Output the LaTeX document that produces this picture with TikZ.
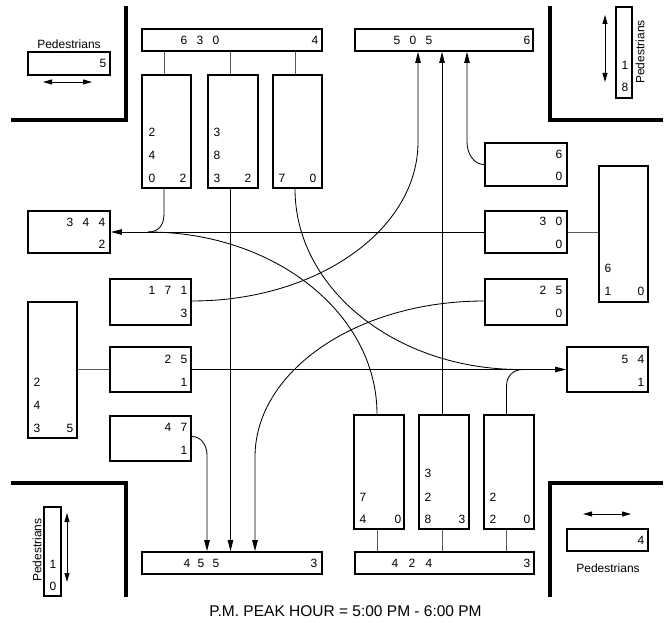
\documentclass[tikz,border=0pt]{standalone}
\usepackage{fontspec}
\setmainfont{Liberation Sans}
\usetikzlibrary{arrows.meta,calc}
\newcommand\bx[5]{%
  \pgfmathsetmacro\bxcx{(#2+#4)/2}\pgfmathsetmacro\bxcy{(#3+#5)/2}%
  \pgfmathsetmacro\bxw{#4-#2}\pgfmathsetmacro\bxh{#5-#3}%
  \node[bx, minimum width=\bxw pt, minimum height=\bxh pt] (#1) at (\bxcx,\bxcy) {};}
\newcommand\dg[4]{\node[dig] (#1) at (#2,#3) {#4};}
\begin{document}
\begin{tikzpicture}[x=1pt,y=-1pt,
  bx/.style={draw, line width=1.8pt, inner sep=0pt},
  dig/.style={font=\fontsize{12}{12}\selectfont, inner sep=0pt},
  ptext/.style={font=\fontsize{12}{12}\selectfont, inner sep=0pt},
  conn/.style={line width=0.8pt, draw=black!65},
  flow/.style={line width=0.85pt},
  arr/.style={-{Triangle[length=11pt,width=5.5pt]}},
  ped/.style={{Triangle[length=9pt,width=5pt]}-{Triangle[length=9pt,width=5pt]}, line width=0.9pt},
  wall/.style={line width=4pt}]
\useasboundingbox (0,0) rectangle (666,623);

% walls
\draw[wall] (126,6) -- (126,120) -- (11,120);
\draw[wall] (550,6) -- (550,120) -- (663,120);
\draw[wall] (11,483) -- (126,483) -- (126,597);
\draw[wall] (663,483) -- (550,483) -- (550,597);

% boxes
\bx{T}{142}{29}{322}{51}
\bx{b1}{142}{75}{191}{188}
\bx{b2}{208}{75}{258}{188}
\bx{b3}{273}{75}{322}{188}
\bx{TR}{355}{29}{533}{51}
\bx{L344}{28}{211}{110}{253}
\bx{L171}{110}{279}{191}{325}
\bx{L25}{110}{347}{191}{392}
\bx{L47}{110}{416}{191}{461}
\bx{Ltall}{28}{302}{77}{438}
\bx{R60}{485}{143}{567}{186}
\bx{R30}{485}{211}{567}{253}
\bx{R25}{485}{279}{567}{325}
\bx{R54}{567}{347}{648}{392}
\bx{Rtall}{599}{166}{648}{302}
\bx{B1}{354}{415}{404}{529}
\bx{B2}{419}{415}{469}{529}
\bx{B3}{484}{415}{534}{529}
\bx{BL}{142}{552}{322}{574}
\bx{BR}{355}{552}{534}{574}
\bx{pTLbox}{28}{52}{110}{75}
\bx{pTRbox}{616}{7}{632}{98}
\bx{pBLbox}{44}{507}{61}{596}
\bx{pBRbox}{567}{529}{648}{551}

% digits
\dg{t1}{184}{40}{6}\dg{t2}{200}{40}{3}\dg{t3}{216}{40}{0}\dg{t4}{315}{40}{4}
\dg{a1}{152}{132}{2}\dg{a2}{152}{155}{4}\dg{a3}{152}{178}{0}\dg{a4}{183}{178}{2}
\dg{a5}{217}{132}{3}\dg{a6}{217}{155}{8}\dg{a7}{217}{178}{3}\dg{a8}{248}{178}{2}
\dg{a9}{282}{178}{7}\dg{a10}{313}{178}{0}
\dg{r1}{397}{40}{5}\dg{r2}{413}{40}{0}\dg{r3}{429}{40}{5}\dg{r4}{527}{40}{6}
\dg{l1}{70}{222}{3}\dg{l2}{86}{222}{4}\dg{l3}{102}{222}{4}\dg{l4}{102}{244}{2}
\dg{l5}{152}{290}{1}\dg{l6}{168}{290}{7}\dg{l7}{184}{290}{1}\dg{l8}{184}{313}{3}
\dg{l9}{168}{359}{2}\dg{l10}{184}{359}{5}\dg{l11}{184}{382}{1}
\dg{l12}{168}{427}{4}\dg{l13}{184}{427}{7}\dg{l14}{184}{450}{1}
\dg{l15}{37}{382}{2}\dg{l16}{37}{405}{4}\dg{l17}{37}{428}{3}\dg{l18}{70}{428}{5}
\dg{e1}{559}{154}{6}\dg{e2}{559}{176}{0}
\dg{e3}{543}{221}{3}\dg{e4}{559}{221}{0}\dg{e5}{559}{244}{0}
\dg{e6}{543}{290}{2}\dg{e7}{559}{290}{5}\dg{e8}{559}{313}{0}
\dg{e9}{625}{359}{5}\dg{e10}{641}{359}{4}\dg{e11}{641}{382}{1}
\dg{e12}{608}{268}{6}\dg{e13}{608}{291}{1}\dg{e14}{641}{291}{0}
\dg{s1}{363}{497}{7}\dg{s2}{363}{519}{4}\dg{s3}{398}{519}{0}
\dg{s4}{428}{473}{3}\dg{s5}{428}{497}{2}\dg{s6}{428}{519}{8}\dg{s7}{462}{519}{3}
\dg{s8}{493}{497}{2}\dg{s9}{493}{519}{2}\dg{s10}{527}{519}{0}
\dg{s11}{187}{563}{4}\dg{s12}{201}{563}{5}\dg{s13}{216}{563}{5}\dg{s14}{314}{563}{3}
\dg{s15}{395}{563}{4}\dg{s16}{412}{563}{2}\dg{s17}{429}{563}{4}\dg{s18}{527}{563}{3}
\dg{p1}{103}{63}{5}
\dg{p2}{625}{65}{1}\dg{p3}{625}{87}{8}
\dg{p4}{53}{564}{1}\dg{p5}{53}{586}{0}
\dg{p6}{641}{540}{4}

% pedestrian labels and arrows
\node[ptext] (pTL) at (69,44) {Pedestrians};
\node[ptext, rotate=90] (pTR) at (640,52) {Pedestrians};
\node[ptext, rotate=90] (pBL) at (37,550) {Pedestrians};
\node[ptext] (pBR) at (608,568) {Pedestrians};
\coordinate (qa1) at (43,82); \coordinate (qa2) at (92,82);
\coordinate (qb1) at (605,15); \coordinate (qb2) at (605,82);
\coordinate (qc1) at (67,513); \coordinate (qc2) at (67,582);
\coordinate (qd1) at (583,514); \coordinate (qd2) at (631,514);
\draw[ped] (qa1) -- (qa2);
\draw[ped] (qb1) -- (qb2);
\draw[ped] (qc1) -- (qc2);
\draw[ped] (qd1) -- (qd2);

% lane connectors
\draw[conn] ([xshift=-2.5pt]b1.north) -- ([xshift=-2.5pt]b1.north |- T.south);
\draw[conn] ([xshift=-2.5pt]b2.north) -- ([xshift=-2.5pt]b2.north |- T.south);
\draw[conn] ([xshift=-2.5pt]b3.north) -- ([xshift=-2.5pt]b3.north |- T.south);
\draw[conn] ([xshift=-2pt]B1.south) -- ([xshift=-2pt]B1.south |- BR.north);
\draw[conn] ([xshift=-2pt]B2.south) -- ([xshift=-2pt]B2.south |- BR.north);
\draw[conn] ([xshift=-2.5pt]B3.south) -- ([xshift=-2.5pt]B3.south |- BR.north);
\draw[conn] ($(L171.west)+(0,11)$) -- ($(L171.west)+(0,11)$ -| Ltall.east);
\draw[conn] (L25.west) -- (L25.west -| Ltall.east);
\draw[conn] ($(L47.west)+(0,-11.5)$) -- ($(L47.west)+(0,-11.5)$ -| Ltall.east);
\draw[conn] ($(R60.east)+(0,11)$) -- ($(R60.east)+(0,11)$ -| Rtall.west);
\draw[conn] (R30.east) -- (R30.east -| Rtall.west);
\draw[conn] ($(R25.east)+(0,-13)$) -- ($(R25.east)+(0,-13)$ -| Rtall.west);

% flows
\coordinate (j1) at (148,232);
\coordinate (j2) at (520,369.5);
\coordinate (j3) at (523,369.5);
\coordinate (c1) at (418,142);
\coordinate (c2) at (467,142);
\coordinate (c3) at (255,457);
\coordinate (c4) at (207,455);

\draw[flow] ([xshift=-2.5pt]b1.south) -- ++(0,25) .. controls +(0,12) and +(10,0) .. (j1);
\draw[flow,arr] (R30.west) -- (R30.west -| L344.east);
\draw[flow,arr] ([xshift=-2.5pt]b2.south) -- ([xshift=-2.5pt]b2.south |- BL.north);
\draw[flow] ([xshift=-2.5pt]b3.south) .. controls +(0,100) and +(-124,0) .. (j2);
\draw[flow] (j1) .. controls +(126,0) and +(0,-101) .. ([xshift=-2pt]B1.north);
\draw[flow,arr] ($(L171.east)+(0,-1)$) .. controls +(125,0) and +(0,88) .. (c1) -- (c1 |- TR.south);
\draw[flow,arr] ([xshift=-2pt]B2.north) -- ([xshift=-2pt]B2.north |- TR.south);
\draw[flow,arr] (R60.west) .. controls +(-10,0) and +(0,12) .. (c2) -- (c2 |- TR.south);
\draw[flow,arr] ($(R25.west)+(0,-1)$) .. controls +(-127,0) and +(0,-86) .. (c3) -- (c3 |- BL.north);
\draw[flow,arr] ($(L47.east)+(0,-2)$) .. controls +(9,0) and +(0,-10) .. (c4) -- (c4 |- BL.north);
\draw[flow,arr] (L25.east) -- (R54.west);
\draw[flow] ([xshift=-2.5pt]B3.north) -- ++(0,-28) .. controls +(0,-10) and +(-10,0) .. (j3);

% title
\node[font=\fontsize{15.5}{16}\selectfont, inner sep=0pt] (title) at (345.5,611) {P.M. PEAK HOUR = 5:00 PM - 6:00 PM};
\end{tikzpicture}
\end{document}
